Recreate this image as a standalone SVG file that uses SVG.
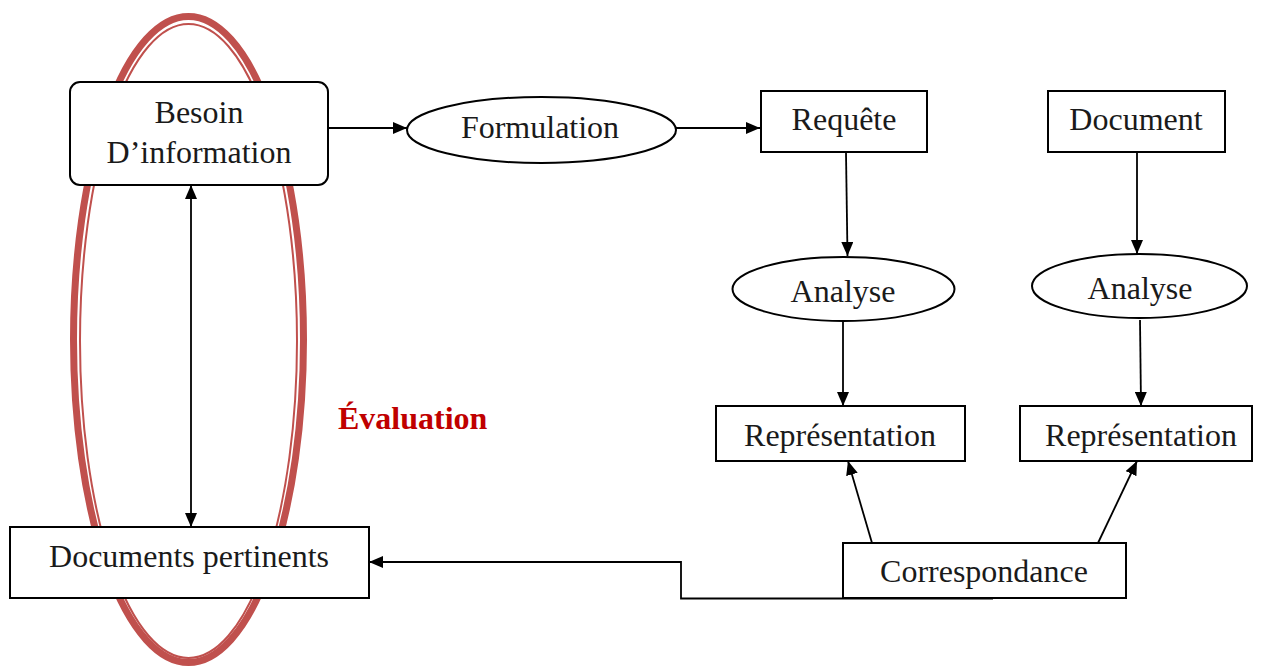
<svg xmlns="http://www.w3.org/2000/svg" width="1273" height="668" viewBox="0 0 1273 668">
<style>
.box{fill:#fff;stroke:#000;stroke-width:2}
.t{font-family:"Liberation Serif","Times New Roman",serif;font-size:32px;fill:#1a1a1a;text-anchor:middle}
.c{fill:none;stroke:#000;stroke-width:1.8}
.ev{font-family:"Liberation Serif","Times New Roman",serif;font-size:32px;font-weight:bold;fill:#C00000}
</style>
<defs>
<marker id="ah" viewBox="0 0 14 12" refX="14" refY="6" markerWidth="14" markerHeight="12" markerUnits="userSpaceOnUse" orient="auto-start-reverse">
<path d="M0,0 L14,6 L0,12 Z" fill="#000"/>
</marker>
</defs>
<rect width="1273" height="668" fill="#fff"/>
<g id="evaluation">
<ellipse cx="188.5" cy="339.5" rx="115" ry="323" fill="none" stroke="#C0504D" stroke-width="7"/>
<ellipse cx="188.5" cy="341" rx="108.5" ry="317" fill="none" stroke="#C0504D" stroke-width="2"/>
<text class="ev" x="338" y="429">Évaluation</text>
</g>
<g id="connectors">
<line class="c" x1="328" y1="128" x2="407" y2="128" marker-end="url(#ah)"/>
<line class="c" x1="676" y1="128" x2="760" y2="128" marker-end="url(#ah)"/>
<line class="c" x1="846" y1="153" x2="847.5" y2="256" marker-end="url(#ah)"/>
<line class="c" x1="1137" y1="153" x2="1137" y2="254" marker-end="url(#ah)"/>
<line class="c" x1="843" y1="321" x2="843" y2="406" marker-end="url(#ah)"/>
<line class="c" x1="1140" y1="320" x2="1141" y2="406" marker-end="url(#ah)"/>
<line class="c" x1="872" y1="543" x2="848" y2="461" marker-end="url(#ah)"/>
<line class="c" x1="1098" y1="543" x2="1137" y2="461" marker-end="url(#ah)"/>
<line class="c" x1="191" y1="185" x2="191" y2="527" marker-start="url(#ah)" marker-end="url(#ah)"/>
<polyline class="c" points="993,598.5 681,598.5 681,562 369,562" marker-end="url(#ah)"/>
</g>
<g id="besoin">
<rect class="box" x="70" y="82" width="258" height="103" rx="10"/>
<text class="t" x="199" y="123">Besoin</text>
<text class="t" x="199" y="163">D’information</text>
</g>
<g id="formulation">
<ellipse class="box" cx="541.5" cy="130" rx="134.5" ry="33"/>
<text class="t" x="540" y="138">Formulation</text>
</g>
<g id="requete">
<rect class="box" x="761" y="91" width="166" height="61"/>
<text class="t" x="844" y="130">Requête</text>
</g>
<g id="document">
<rect class="box" x="1048" y="91" width="177" height="61"/>
<text class="t" x="1136" y="130">Document</text>
</g>
<g id="analyse1">
<ellipse class="box" cx="843.5" cy="289" rx="111" ry="32"/>
<text class="t" x="843" y="302">Analyse</text>
</g>
<g id="analyse2">
<ellipse class="box" cx="1139.5" cy="286" rx="107.5" ry="32"/>
<text class="t" x="1140" y="299">Analyse</text>
</g>
<g id="representation1">
<rect class="box" x="716" y="406" width="249" height="55"/>
<text class="t" x="840" y="446">Représentation</text>
</g>
<g id="representation2">
<rect class="box" x="1020" y="406" width="232" height="55"/>
<text class="t" x="1141" y="446">Représentation</text>
</g>
<g id="correspondance">
<rect class="box" x="843" y="543" width="283" height="55"/>
<text class="t" x="984" y="582">Correspondance</text>
</g>
<g id="documents-pertinents">
<rect class="box" x="10" y="527" width="359" height="71"/>
<text class="t" x="189" y="567">Documents pertinents</text>
</g>
</svg>
